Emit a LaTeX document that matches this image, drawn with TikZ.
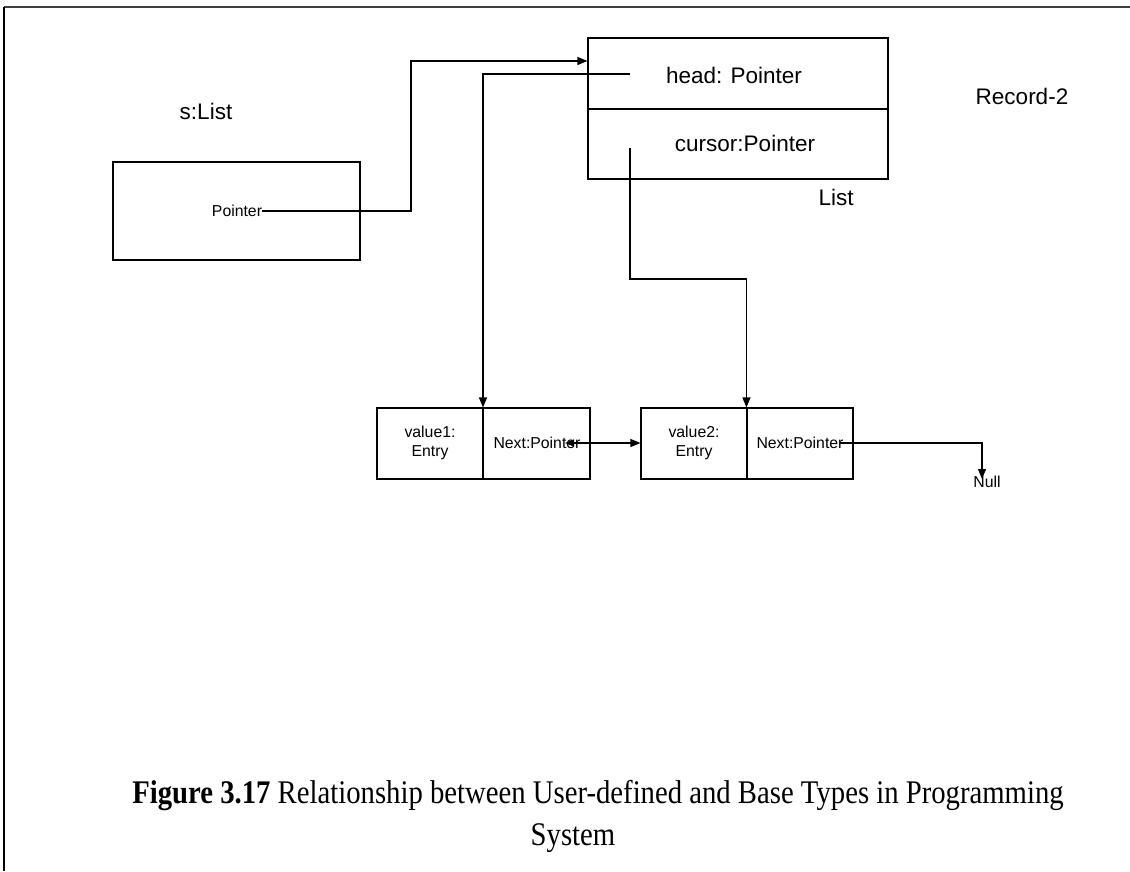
\documentclass[tikz,border=0pt]{standalone}
\usepackage{fontspec}
\setmainfont{Liberation Serif}
\setsansfont{Liberation Sans}
\usetikzlibrary{arrows.meta}
\tikzset{
  box/.style={draw, line width=1.1pt, inner sep=0pt},
  lbl/.style={font=\sffamily\fontsize{22.5}{26}\selectfont, inner sep=0pt},
  small/.style={font=\sffamily\fontsize{15.8}{19}\selectfont, inner sep=0pt, align=center},
  link/.style={line width=1.1pt},
  tip/.style={-{Triangle[length=10pt,width=8pt]}},
  twotip/.style={{Triangle[length=9pt,width=7pt]}-{Triangle[length=10pt,width=8pt]}},
  captext/.style={font=\fontsize{33}{38}\selectfont, inner sep=0pt, xscale=0.87}
}
\begin{document}
\begin{tikzpicture}[x=1pt, y=-1pt]
\useasboundingbox (0,0) rectangle (1130,871);

% page frame (top and left edges only)
\coordinate (fl) at (4,7);
\coordinate (fr) at (1130,7);
\coordinate (fb) at (4,871);
\draw[line width=2.6pt, black!75] (fl) -- (fr);
\draw[line width=1.4pt] (fl) -- (fb);

% variable s
\node[lbl] (slist) at (206,111) {s:List};
\node[box, minimum width=247pt, minimum height=98pt] (pbox) at (236.5,211) {};
\node[small] (ptxt) at (237,211) {Pointer};

% record with two fields
\node[box, minimum width=300pt, minimum height=71pt] (rtop) at (738,73.5) {};
\node[box, minimum width=300pt, minimum height=70pt] (rbot) at (738,144) {};
\node[lbl] (head) at (734,75) {head: Pointer};
\node[lbl] (cursor) at (745,143) {cursor:Pointer};
\node[lbl] (listlbl) at (836,197) {List};
\node[lbl] (rec2) at (1022,96) {Record-2};

% list entries
\node[box, minimum width=106pt, minimum height=71pt] (v1) at (430,443.5) {};
\node[box, minimum width=107pt, minimum height=71pt] (n1) at (536.5,443.5) {};
\node[box, minimum width=106pt, minimum height=71pt] (v2) at (694,443.5) {};
\node[box, minimum width=106pt, minimum height=71pt] (n2) at (800,443.5) {};
\node[small] (v1t) at (430,443) {value1:\\Entry};
\node[small] (n1t) at (537,443) {Next:Pointer};
\node[small] (v2t) at (694,443) {value2:\\Entry};
\node[small] (n2t) at (800,443) {Next:Pointer};
\node[small] (null) at (987,482) {Null};

% connector anchor points
\coordinate (ps) at (262,211);
\coordinate (pb) at (411,61);
\coordinate (hs) at (630,74);
\coordinate (hb) at (483,74);
\coordinate (cs) at (630,148);
\coordinate (cb) at (630,279);
\coordinate (ns1) at (565,443);
\coordinate (ns2) at (840,443);
\coordinate (nend) at (982,479);

% pointers
\draw[link, tip] (ps) -| (pb) -- (pb -| rtop.west);
\draw[link, tip] (hs) -- (hb) -- (hb |- v1.north);
\draw[link, tip] (cs) -- (cb) -| (n2.north west);
\draw[link, twotip] (ns1) -- (ns1 -| v2.west);
\draw[link, tip] (ns2) -| (nend);

% caption
\node[captext] (cap1) at (598,796) {\textbf{Figure 3.17} Relationship between User-defined and Base Types in Programming};
\node[captext] (cap2) at (573,838) {System};
\end{tikzpicture}
\end{document}
